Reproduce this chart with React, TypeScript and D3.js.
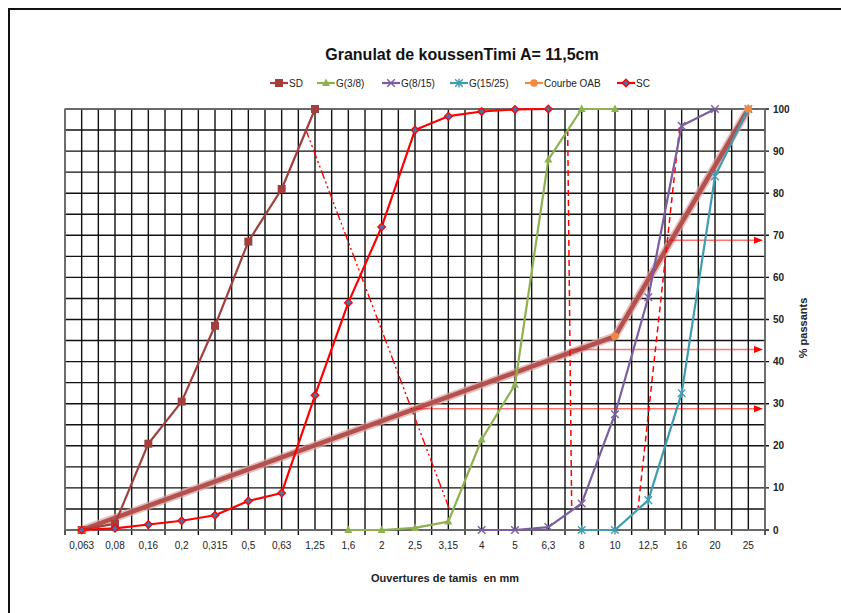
import React, { useEffect, useRef } from 'react';
import * as d3 from 'd3';

// ouvertures des tamis (mm)
const sieves = ["0,063", "0,08", "0,16", "0,2", "0,315", "0,5", "0,63", "1,25", "1,6", "2", "2,5", "3,15", "4", "5", "6,3", "8", "10", "12,5", "16", "20", "25"];
const yTicks = [0, 10, 20, 30, 40, 50, 60, 70, 80, 90, 100];

const sdSieves = ["0,063", "0,08", "0,16", "0,2", "0,315", "0,5", "0,63", "1,25"];
const sdValues = [0, 1.5, 20.5, 30.5, 48.5, 68.5, 81, 100];

const g38Sieves = ["1,6", "2", "2,5", "3,15", "4", "5", "6,3", "8", "10"];
const g38Values = [0, 0, 0.5, 2, 21.5, 34.5, 88, 100, 100];

const g815Sieves = ["4", "5", "6,3", "8", "10", "12,5", "16", "20"];
const g815Values = [0, 0, 0.7, 6.3, 27.5, 55.3, 96, 100];

const g1525Sieves = ["8", "10", "12,5", "16", "20", "25"];
const g1525Values = [0, 0, 7.1, 32.5, 84, 100];

const oabSieves = ["0,063", "10", "25"];
const oabValues = [0, 46, 100];

const scSieves = ["0,063", "0,08", "0,16", "0,2", "0,315", "0,5", "0,63", "1,25", "1,6", "2", "2,5", "3,15", "4", "5", "6,3"];
const scValues = [0, 0.4, 1.3, 2.2, 3.5, 6.9, 8.8, 32, 54, 72, 95, 98.3, 99.4, 99.9, 100];

// lignes de partage (position en rang de tamis, % passant)
const partageSdG38 = [[6.72, 95.2], [11.04, 4.8]];
const partageG38G815 = [[14.58, 95], [14.7, 5.3]];
const partageG815G1525 = [[17.94, 95.6], [16.69, 5]];
// lectures sur la courbe OAB : [rang de départ, % passant]
const lectures = [[9.98, 28.8], [14.64, 42.9], [17.62, 68.8]];

const series = [
    { name: "SD", sieves: sdSieves, values: sdValues, color: "#A23F3C", marker: "square" },
    { name: "G(3/8)", sieves: g38Sieves, values: g38Values, color: "#8DB24F", marker: "triangle" },
    { name: "G(8/15)", sieves: g815Sieves, values: g815Values, color: "#7A5EA0", marker: "x" },
    { name: "G(15/25)", sieves: g1525Sieves, values: g1525Values, color: "#3F9DB2", marker: "star" },
    { name: "Courbe OAB", sieves: oabSieves, values: oabValues, color: "#F08A3E", marker: "circle" },
    { name: "SC", sieves: scSieves, values: scValues, color: "#FF0000", marker: "diamond" },
];
const legendX = [270, 317, 382, 450, 525, 617];

const FONT = "'Liberation Sans', Arial, sans-serif";

const markerPath = (type, s) => {
    switch (type) {
        case "square": return `M${-s},${-s}H${s}V${s}H${-s}Z`;
        case "triangle": return `M0,${-s * 1.15}L${s},${s * 0.75}L${-s},${s * 0.75}Z`;
        case "diamond": return `M0,${-s}L${s},0L0,${s}L${-s},0Z`;
        case "x": return `M${-s},${-s}L${s},${s}M${-s},${s}L${s},${-s}`;
        case "star": return `M${-s},${-s}L${s},${s}M${-s},${s}L${s},${-s}M0,${-s * 1.2}V${s * 1.2}`;
        default: return d3.symbol(d3.symbolCircle, Math.PI * s * s)();
    }
};

const drawMarker = (g, type, color, cx, cy) => {
    const p = g.append("path").attr("transform", `translate(${cx},${cy})`);
    if (type === "square" || type === "triangle") {
        p.attr("d", markerPath(type, 4)).attr("fill", color);
    } else if (type === "diamond") {
        p.attr("d", markerPath(type, 3.8)).attr("fill", "#4F6FA8").attr("stroke", color).attr("stroke-width", 1.3);
    } else if (type === "circle") {
        p.attr("d", markerPath(type, 3.8)).attr("fill", color);
    } else {
        p.attr("d", markerPath(type, 3.8)).attr("fill", "none").attr("stroke", color).attr("stroke-width", 1.4);
    }
};

const App = () => {
    const ref = useRef(null);

    useEffect(() => {
        const width = 841, height = 613;
        const plot = { left: 65, right: 765, top: 109, bottom: 530 };

        const root = d3.select(ref.current);
        root.selectAll("*").remove();

        const svg = root.append("svg")
            .attr("width", width)
            .attr("height", height)
            .style("position", "absolute")
            .style("left", 0)
            .style("top", 0)
            .style("font-family", FONT);

        svg.append("rect").attr("width", width).attr("height", height).attr("fill", "#fff");
        // cadre
        svg.append("rect")
            .attr("x", 9).attr("y", 9).attr("width", 850).attr("height", 620)
            .attr("fill", "none").attr("stroke", "#111").attr("stroke-width", 2);

        const x = d3.scalePoint().domain(sieves).range([plot.left, plot.right]).padding(0.5);
        const xi = d3.scaleLinear().domain([0, sieves.length - 1]).range([x(sieves[0]), x(sieves[sieves.length - 1])]);
        const y = d3.scaleLinear().domain([0, 100]).range([plot.bottom, plot.top]);

        // titre
        svg.append("text")
            .attr("x", 462).attr("y", 60)
            .attr("text-anchor", "middle")
            .attr("font-size", 16).attr("font-weight", "bold")
            .attr("fill", "#111")
            .text("Granulat de koussenTimi A= 11,5cm");

        // quadrillage
        const grid = svg.append("g").attr("stroke", "#111").attr("stroke-width", 1.4);
        const step = x.step() / 2;
        d3.range(0, sieves.length * 2 + 1).forEach(k => {
            const gx = plot.left + k * step;
            grid.append("line")
                .attr("x1", gx).attr("x2", gx)
                .attr("y1", plot.top).attr("y2", k % 2 === 0 ? plot.bottom + 5 : plot.bottom);
        });
        d3.range(0, 101, 5).forEach(v => {
            grid.append("line")
                .attr("x1", plot.left).attr("x2", v % 10 === 0 ? plot.right + 4 : plot.right)
                .attr("y1", y(v)).attr("y2", y(v));
        });
        svg.append("rect")
            .attr("x", plot.left).attr("y", plot.top)
            .attr("width", plot.right - plot.left).attr("height", plot.bottom - plot.top)
            .attr("fill", "none").attr("stroke", "#777").attr("stroke-width", 1.4);

        // axe x
        svg.append("g")
            .selectAll("text")
            .data(sieves)
            .join("text")
            .attr("x", d => x(d))
            .attr("y", 549)
            .attr("text-anchor", "middle")
            .attr("font-size", 10)
            .attr("fill", "#222")
            .text(d => d);

        svg.append("text")
            .attr("x", 445).attr("y", 582)
            .attr("text-anchor", "middle")
            .attr("font-size", 11).attr("font-weight", "bold")
            .attr("fill", "#222")
            .style("white-space", "pre")
            .text("Ouvertures de tamis  en mm");

        // axe y (droite)
        svg.append("g")
            .selectAll("text")
            .data(yTicks)
            .join("text")
            .attr("x", 773)
            .attr("y", d => y(d))
            .attr("dy", "0.35em")
            .attr("font-size", 10).attr("font-weight", "bold")
            .attr("fill", "#222")
            .text(d => d);

        svg.append("text")
            .attr("transform", `translate(803, 328) rotate(-90)`)
            .attr("text-anchor", "middle")
            .attr("dy", "0.35em")
            .attr("font-size", 11).attr("font-weight", "bold")
            .attr("fill", "#222")
            .text("% passants");

        const line = d3.line().x(d => d[0]).y(d => d[1]);

        // courbe OAB (trait épais)
        const oabPts = oabSieves.map((s, i) => [x(s), y(oabValues[i])]);
        svg.append("path").attr("d", line(oabPts)).attr("fill", "none")
            .attr("stroke", "#D9A3A1").attr("stroke-width", 8).attr("stroke-opacity", 0.7).attr("stroke-linejoin", "round");
        svg.append("path").attr("d", line(oabPts)).attr("fill", "none")
            .attr("stroke", "#B4504D").attr("stroke-width", 4.5).attr("stroke-linejoin", "round");

        // lignes de partage
        const lineIdx = d3.line().x(d => xi(d[0])).y(d => y(d[1]));
        svg.append("path").attr("d", lineIdx(partageSdG38)).attr("fill", "none")
            .attr("stroke", "#FF0000").attr("stroke-width", 1.4).attr("stroke-dasharray", "9,3,2,3,2,3");
        [partageG38G815, partageG815G1525].forEach(p => {
            svg.append("path").attr("d", lineIdx(p)).attr("fill", "none")
                .attr("stroke", "#FF0000").attr("stroke-width", 1.5).attr("stroke-dasharray", "6,4");
        });

        // lectures vers l'axe
        const tip = plot.right - 2;
        lectures.forEach(([i0, v]) => {
            svg.append("line")
                .attr("x1", xi(i0)).attr("x2", tip - 6)
                .attr("y1", y(v)).attr("y2", y(v))
                .attr("stroke", "#FF0000").attr("stroke-opacity", 0.55).attr("stroke-width", 1.5);
            svg.append("path")
                .attr("d", `M${tip},${y(v)}L${tip - 9},${y(v) - 3.5}L${tip - 9},${y(v) + 3.5}Z`)
                .attr("fill", "#FF0000");
        });

        // séries
        series.filter(s => s.name !== "Courbe OAB").forEach(s => {
            const pts = s.sieves.map((k, i) => [x(k), y(s.values[i])]);
            svg.append("path").attr("d", line(pts)).attr("fill", "none")
                .attr("stroke", s.color).attr("stroke-width", 2.2).attr("stroke-linejoin", "round");
        });
        series.forEach(s => {
            const g = svg.append("g");
            s.sieves.forEach((k, i) => drawMarker(g, s.marker, s.color, x(k), y(s.values[i])));
        });

        // légende
        const legend = svg.append("g");
        series.forEach((s, i) => {
            const lx = legendX[i], ly = 83;
            legend.append("line")
                .attr("x1", lx).attr("x2", lx + 18).attr("y1", ly).attr("y2", ly)
                .attr("stroke", s.color).attr("stroke-width", 2.2);
            drawMarker(legend, s.marker, s.color, lx + 9, ly);
            legend.append("text")
                .attr("x", lx + 19).attr("y", ly)
                .attr("dy", "0.35em")
                .attr("font-size", 10)
                .attr("fill", "#222")
                .text(s.name);
        });
    }, []);

    return <div ref={ref}></div>;
};

export default App;
